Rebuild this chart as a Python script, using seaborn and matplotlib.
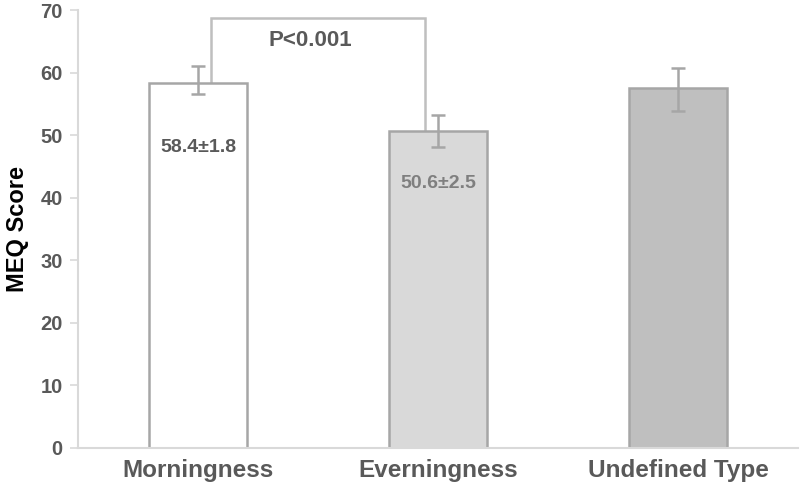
import matplotlib
matplotlib.use("Agg")
import matplotlib.pyplot as plt
import seaborn as sns
import pandas as pd

categories = ["Morningness", "Everningness", "Undefined Type"]
means = [58.4, 50.6, 57.5]
err_lower = [1.8, 2.5, 3.6]
err_upper = [2.7, 2.6, 3.2]
bar_fills = ["#ffffff", "#d9d9d9", "#bfbfbf"]
value_labels = ["58.4±1.8", "50.6±2.5", ""]
value_label_y = [48.1, 42.3, 0]
value_label_colors = ["#595959", "#7f7f7f", "#7f7f7f"]
yticks = [0, 10, 20, 30, 40, 50, 60, 70]
bracket_top = 68.7
p_text = "P<0.001"

sns.set_theme(style="white")
plt.rcParams["font.family"] = ["Liberation Sans", "DejaVu Sans"]

df = pd.DataFrame({"group": categories, "score": means})

fig = plt.figure(figsize=(8, 4.91), dpi=100)
ax = fig.add_axes([0.0975, 0.0876, 0.9, 0.892])

sns.barplot(data=df, x="group", y="score", hue="group", palette=bar_fills,
            legend=False, width=0.405, edgecolor="#a6a6a6", linewidth=1.8,
            errorbar=None, ax=ax, zorder=2)

xs = list(range(len(categories)))
ax.errorbar(xs, means, yerr=[err_lower, err_upper], fmt="none",
            ecolor="#a6a6a6", elinewidth=1.8, capsize=5, capthick=1.8, zorder=3)

for x, lab, y, c in zip(xs, value_labels, value_label_y, value_label_colors):
    if lab:
        ax.text(x, y, lab, ha="center", va="center", fontsize=14,
                fontweight="bold", color=c, zorder=4)

# significance bracket
xl = xs[0] + 0.055
xr = xs[1] - 0.055
ax.plot([xl, xl, xr, xr], [means[0], bracket_top, bracket_top, means[1]],
        color="#bfbfbf", lw=1.8, zorder=1, solid_joinstyle="miter")
ax.text(xs[0] + 0.467, 65.2, p_text, ha="center", va="center", fontsize=16,
        fontweight="bold", color="#595959")

ax.set_xlim(-0.5, 2.5)
ax.set_ylim(0, 70)
ax.set_yticks(yticks)
ax.set_yticklabels([str(t) for t in yticks], fontsize=14.5, fontweight="bold",
                   color="#595959")
ax.set_xticks(xs)
ax.set_xticklabels(categories, fontsize=17.5, fontweight="bold", color="#595959")
ax.set_xlabel("")
ax.set_ylabel("MEQ Score", fontsize=17, fontweight="bold", color="#000000",
              labelpad=8)

for s in ["top", "right"]:
    ax.spines[s].set_visible(False)
for s in ["left", "bottom"]:
    ax.spines[s].set_color("#d9d9d9")
    ax.spines[s].set_linewidth(1.5)
ax.tick_params(axis="y", length=6, width=1.2, color="#d9d9d9", left=True, pad=5)
ax.tick_params(axis="x", length=0, pad=8)
ax.grid(False)

fig.savefig("out.png", dpi=100)
